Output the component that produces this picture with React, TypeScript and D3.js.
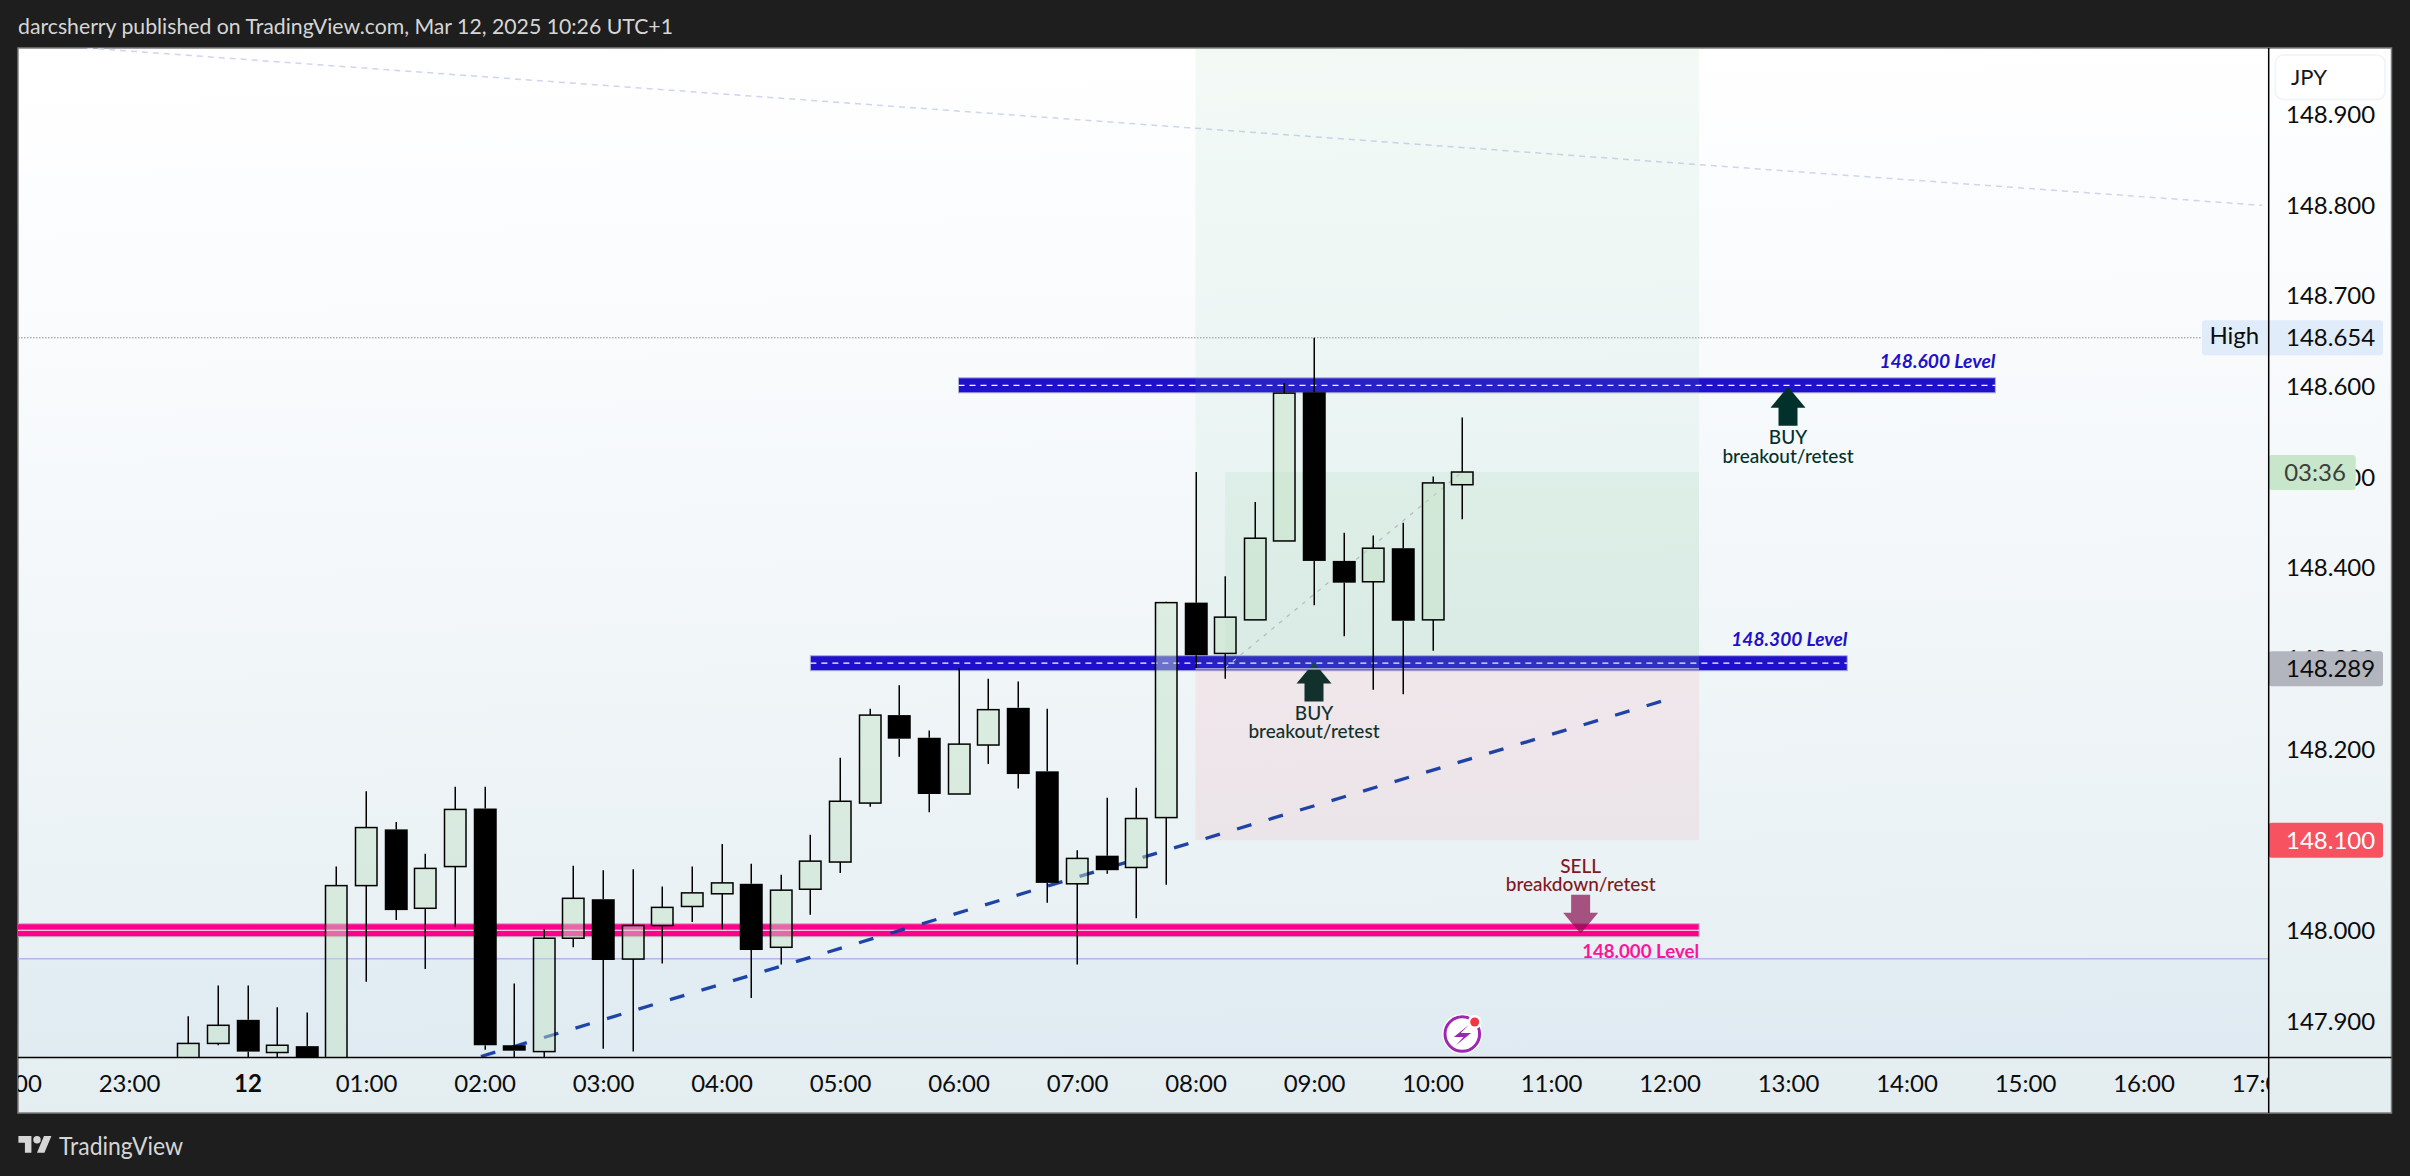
import React, { useEffect, useRef } from 'react';
import * as d3 from 'd3';

const barTimes = ['23:30', '23:45', '00:00', '00:15', '00:30', '00:45', '01:00', '01:15', '01:30', '01:45', '02:00', '02:15', '02:30', '02:45', '03:00', '03:15', '03:30', '03:45', '04:00', '04:15', '04:30', '04:45', '05:00', '05:15', '05:30', '05:45', '06:00', '06:15', '06:30', '06:45', '07:00', '07:15', '07:30', '07:45', '08:00', '08:15', '08:30', '08:45', '09:00', '09:15', '09:30', '09:45', '10:00', '10:15'];
const opens = [147.84, 147.876, 147.902, 147.866, 147.873, 147.85, 148.05, 148.112, 148.025, 148.071, 148.135, 147.874, 147.867, 147.992, 148.035, 147.969, 148.006, 148.027, 148.041, 148.052, 147.982, 148.046, 148.076, 148.141, 148.238, 148.213, 148.151, 148.205, 148.246, 148.176, 148.052, 148.083, 148.07, 148.125, 148.362, 148.306, 148.343, 148.43, 148.594, 148.408, 148.385, 148.422, 148.343, 148.492];
const highs = [147.906, 147.94, 147.94, 147.916, 147.91, 148.071, 148.154, 148.12, 148.085, 148.159, 148.159, 147.942, 148.002, 148.072, 148.067, 148.068, 148.049, 148.071, 148.096, 148.074, 148.062, 148.106, 148.191, 148.245, 148.271, 148.221, 148.29, 148.278, 148.275, 148.245, 148.089, 148.147, 148.158, 148.363, 148.506, 148.391, 148.473, 148.604, 148.654, 148.439, 148.436, 148.45, 148.501, 148.566];
const lows = [147.83, 147.874, 147.85, 147.85, 147.84, 147.84, 147.944, 148.012, 147.958, 148.004, 147.869, 147.85, 147.85, 147.982, 147.87, 147.867, 147.964, 148.01, 148.002, 147.926, 147.963, 148.018, 148.064, 148.137, 148.192, 148.131, 148.151, 148.184, 148.157, 148.031, 147.963, 148.063, 148.014, 148.051, 148.29, 148.278, 148.343, 148.43, 148.359, 148.325, 148.266, 148.261, 148.309, 148.454];
const closes = [147.876, 147.896, 147.867, 147.874, 147.85, 148.05, 148.114, 148.023, 148.069, 148.134, 147.874, 147.868, 147.992, 148.036, 147.968, 148.006, 148.026, 148.042, 148.053, 147.979, 148.045, 148.077, 148.143, 148.238, 148.212, 148.151, 148.206, 148.244, 148.173, 148.053, 148.08, 148.067, 148.124, 148.362, 148.304, 148.346, 148.433, 148.593, 148.408, 148.384, 148.422, 148.342, 148.494, 148.506];

const priceTicks = [148.9, 148.8, 148.7, 148.654, 148.6, 148.5, 148.4, 148.3, 148.2, 148.0, 147.9];
const timeTicks = [-2, -1, 0, 1, 2, 3, 4, 5, 6, 7, 8, 9, 10, 11, 12, 13, 14, 15, 16, 17];
const timeLabels = ['22:00', '23:00', '12', '01:00', '02:00', '03:00', '04:00', '05:00', '06:00', '07:00', '08:00', '09:00', '10:00', '11:00', '12:00', '13:00', '14:00', '15:00', '16:00', '17:00'];

// horizontal levels
const levelLabels = ['148.600 Level', '148.300 Level'];
const levelPrices = [148.6016, 148.2952];
const levelStarts = [6, 4.75];
const levelEnds = [14.75, 13.5];
const sellLevelPrice = 148.0008;
const sellLevelEnd = 12.25;
const sellLevelLabel = '148.000 Level';

// long position drawing
const positionStart = 8;
const positionEnd = 12.25;
const entryPrice = 148.289;
const stopPrice = 148.1;
const profitStart = 8.25;
const lastPrice = 148.506;
const lastHour = 10.25;
const highPrice = 148.654;
const rangeLinePrice = 147.9695;

// trend lines
const trendHours = [1.97, 11.97];
const trendPrices = [147.8616, 148.2547];
const fadedHours = [-1.354, 17];
const fadedPrices = [148.9735, 148.8];

// arrows
const buyHours = [13, 9];
const buyPrices = [148.6, 148.296];
const sellHour = 11.25;
const sellPrice = 147.997;

const hourOf = (t: string) => {
    const [h, m] = t.split(':').map(Number);
    return (h >= 20 ? h - 24 : h) + m / 60;
};

const App: React.FC = () => {
    const svgRef = useRef<SVGSVGElement | null>(null);

    useEffect(() => {
        const width = 2410;
        const height = 1176;
        const margin = { top: 48, right: 18.5, bottom: 63, left: 18 };
        const axisX = 2268.7;
        const axisY = 1057.4;
        const font = 'Lato, sans-serif';

        const svg = d3.select(svgRef.current);
        svg.selectAll('*').remove();

        const xScale = d3.scaleLinear().domain([1, 10]).range([366, 1432.5]);
        const yScale = d3.scaleLinear().domain([147.8606, 148.9735]).range([axisY, margin.top]);

        const defs = svg.append('defs');
        const grad = defs.append('linearGradient').attr('id', 'bg').attr('x1', 0).attr('y1', 0).attr('x2', 0.04).attr('y2', 1);
        grad.append('stop').attr('offset', '0%').attr('stop-color', '#ffffff');
        grad.append('stop').attr('offset', '40%').attr('stop-color', '#f6f9fb');
        grad.append('stop').attr('offset', '100%').attr('stop-color', '#e4eef1');
        defs.append('clipPath').attr('id', 'plot').append('rect')
            .attr('x', margin.left).attr('y', margin.top)
            .attr('width', axisX - margin.left).attr('height', axisY - margin.top);
        defs.append('clipPath').attr('id', 'timeAxis').append('rect')
            .attr('x', margin.left).attr('y', axisY)
            .attr('width', axisX - margin.left).attr('height', 60);

        // page and panel
        svg.append('rect').attr('width', width).attr('height', height).attr('fill', '#1e1e1e');
        svg.append('rect')
            .attr('x', margin.left).attr('y', margin.top)
            .attr('width', width - margin.left - margin.right)
            .attr('height', height - margin.top - margin.bottom)
            .attr('fill', 'url(#bg)')
            .attr('stroke', '#7d7d7d')
            .attr('stroke-width', 1.5);

        svg.append('text')
            .attr('x', 18).attr('y', 34)
            .attr('textLength', 655).attr('lengthAdjust', 'spacingAndGlyphs')
            .attr('font-family', font).attr('font-size', 21).attr('fill', '#d6d6d6')
            .text('darcsherry published on TradingView.com, Mar 12, 2025 10:26 UTC+1');

        const plot = svg.append('g').attr('clip-path', 'url(#plot)');

        // lower range shading
        plot.append('rect')
            .attr('x', margin.left).attr('y', yScale(rangeLinePrice))
            .attr('width', axisX - margin.left).attr('height', axisY - yScale(rangeLinePrice))
            .attr('fill', 'rgba(110,170,255,0.05)');
        plot.append('line')
            .attr('x1', margin.left).attr('x2', axisX)
            .attr('y1', yScale(rangeLinePrice)).attr('y2', yScale(rangeLinePrice))
            .attr('stroke', '#b9b4e6').attr('stroke-width', 1.5);

        plot.append('line')
            .attr('x1', xScale(fadedHours[0])).attr('y1', yScale(fadedPrices[0]))
            .attr('x2', xScale(fadedHours[1])).attr('y2', yScale(fadedPrices[1]))
            .attr('stroke', '#d0d4ee').attr('stroke-width', 1.5).attr('stroke-dasharray', '6,5');

        // high line
        plot.append('line')
            .attr('x1', margin.left).attr('x2', 2202)
            .attr('y1', yScale(highPrice)).attr('y2', yScale(highPrice))
            .attr('stroke', '#8a8f94').attr('stroke-width', 1).attr('stroke-dasharray', '1.5,1.5');

        // blue levels
        levelPrices.forEach((price, i) => {
            const x1 = xScale(levelStarts[i]);
            const x2 = xScale(levelEnds[i]);
            plot.append('rect')
                .attr('x', x1).attr('y', yScale(price) - 7.5)
                .attr('width', x2 - x1).attr('height', 15)
                .attr('fill', '#1f10cc').attr('stroke', '#aeb0d8').attr('stroke-width', 1);
            plot.append('line')
                .attr('x1', x1).attr('x2', x2)
                .attr('y1', yScale(price)).attr('y2', yScale(price))
                .attr('stroke', '#ffffff').attr('stroke-width', 1.2).attr('stroke-dasharray', '6,5');
            plot.append('text')
                .attr('x', x2).attr('y', yScale(price) - 17)
                .attr('text-anchor', 'end')
                .attr('textLength', 116).attr('lengthAdjust', 'spacingAndGlyphs')
                .attr('font-family', font).attr('font-size', 19).attr('font-style', 'italic').attr('font-weight', 700)
                .attr('fill', '#1f10cc')
                .text(levelLabels[i]);
        });

        // pink level
        const sellY = yScale(sellLevelPrice);
        plot.append('rect')
            .attr('x', margin.left - 2).attr('y', sellY - 6.5)
            .attr('width', xScale(sellLevelEnd) - margin.left + 2).attr('height', 13)
            .attr('fill', '#ff008c').attr('stroke', '#b9bcc4').attr('stroke-width', 1);
        plot.append('line')
            .attr('x1', margin.left).attr('x2', xScale(sellLevelEnd))
            .attr('y1', sellY).attr('y2', sellY)
            .attr('stroke', '#ffffff').attr('stroke-width', 1.2);
        plot.append('text')
            .attr('x', xScale(sellLevelEnd)).attr('y', sellY + 27.5)
            .attr('text-anchor', 'end')
            .attr('textLength', 117).attr('lengthAdjust', 'spacingAndGlyphs')
            .attr('font-family', font).attr('font-size', 19).attr('font-weight', 700)
            .attr('fill', '#ff1499')
            .text(sellLevelLabel);

        // buy arrows + captions
        const arrowShape = (x: number, tip: number, dir: number) => {
            const p = d3.path();
            p.moveTo(x, tip);
            p.lineTo(x + 17.5, tip + dir * 21);
            p.lineTo(x + 9.5, tip + dir * 21);
            p.lineTo(x + 9.5, tip + dir * 39);
            p.lineTo(x - 9.5, tip + dir * 39);
            p.lineTo(x - 9.5, tip + dir * 21);
            p.lineTo(x - 17.5, tip + dir * 21);
            p.closePath();
            return p.toString();
        };
        buyHours.forEach((hour, i) => {
            const x = xScale(hour);
            const tip = yScale(buyPrices[i]);
            plot.append('path').attr('d', arrowShape(x, tip, 1)).attr('fill', '#02312c');
            ['BUY', 'breakout/retest'].forEach((line, j) => {
                plot.append('text')
                    .attr('x', x).attr('y', tip + 51 + j * 18.3)
                    .attr('dy', '0.35em').attr('text-anchor', 'middle')
                    .attr('font-family', font).attr('font-size', 19).attr('font-weight', 500)
                    .attr('fill', '#02312c')
                    .text(line);
            });
        });

        // long position boxes
        const boxX = xScale(positionStart);
        const boxW = xScale(positionEnd) - boxX;
        plot.append('rect')
            .attr('x', boxX).attr('y', margin.top)
            .attr('width', boxW).attr('height', yScale(entryPrice) - margin.top)
            .attr('fill', 'rgba(120,200,150,0.09)');
        plot.append('rect')
            .attr('x', xScale(profitStart)).attr('y', yScale(lastPrice))
            .attr('width', xScale(positionEnd) - xScale(profitStart))
            .attr('height', yScale(entryPrice) - yScale(lastPrice))
            .attr('fill', 'rgba(120,200,150,0.1)');
        plot.append('rect')
            .attr('x', boxX).attr('y', yScale(entryPrice))
            .attr('width', boxW).attr('height', yScale(stopPrice) - yScale(entryPrice))
            .attr('fill', 'rgba(242,54,69,0.07)');
        plot.append('line')
            .attr('x1', boxX).attr('x2', boxX + boxW)
            .attr('y1', yScale(entryPrice)).attr('y2', yScale(entryPrice))
            .attr('stroke', '#c9cbe8').attr('stroke-width', 1.2);
        plot.append('line')
            .attr('x1', xScale(profitStart)).attr('y1', yScale(entryPrice) - 1)
            .attr('x2', xScale(lastHour)).attr('y2', yScale(lastPrice))
            .attr('stroke', '#b4babd').attr('stroke-width', 1.2).attr('stroke-dasharray', '4,6');

        // rising trend line
        plot.append('line')
            .attr('x1', xScale(trendHours[0])).attr('y1', yScale(trendPrices[0]))
            .attr('x2', xScale(trendHours[1])).attr('y2', yScale(trendPrices[1]))
            .attr('stroke', '#0e36a0').attr('stroke-width', 3.3).attr('stroke-dasharray', '15,17.9')
            .attr('opacity', 0.92);

        // sell arrow + caption
        const sellX = xScale(sellHour);
        const sellTip = yScale(sellPrice);
        plot.append('path').attr('d', arrowShape(sellX, sellTip, -1)).attr('fill', 'rgba(136,14,79,0.7)');
        ['SELL', 'breakdown/retest'].forEach((line, j) => {
            plot.append('text')
                .attr('x', sellX).attr('y', sellTip - 67.5 + j * 18.3)
                .attr('dy', '0.35em').attr('text-anchor', 'middle')
                .attr('font-family', font).attr('font-size', 19).attr('font-weight', 500)
                .attr('fill', '#801922')
                .text(line);
        });

        // candles
        const candles = plot.append('g');
        barTimes.forEach((t, i) => {
            const x = Math.round(xScale(hourOf(t))) + 0.25;
            const up = closes[i] >= opens[i];
            const top = yScale(Math.max(opens[i], closes[i]));
            const bottom = yScale(Math.min(opens[i], closes[i]));
            // wicks stop at the body, up bodies are translucent
            candles.append('line')
                .attr('x1', x).attr('x2', x)
                .attr('y1', yScale(highs[i])).attr('y2', top)
                .attr('stroke', '#000').attr('stroke-width', 1.5);
            candles.append('line')
                .attr('x1', x).attr('x2', x)
                .attr('y1', bottom).attr('y2', yScale(lows[i]))
                .attr('stroke', '#000').attr('stroke-width', 1.5);
            if (up) {
                candles.append('rect')
                    .attr('x', x - 10.75).attr('y', top)
                    .attr('width', 21.5).attr('height', bottom - top)
                    .attr('fill', 'rgba(195,225,198,0.47)')
                    .attr('stroke', '#000').attr('stroke-width', 1.5);
            } else {
                candles.append('rect')
                    .attr('x', x - 11.5).attr('y', top)
                    .attr('width', 23).attr('height', bottom - top)
                    .attr('fill', '#000');
            }
        });

        // lightning badge
        const badge = plot.append('g').attr('transform', 'translate(1462.3,1034)');
        badge.append('circle').attr('r', 20).attr('fill', '#ffffff');
        badge.append('circle').attr('r', 17.3).attr('fill', 'none').attr('stroke', '#9c27b0').attr('stroke-width', 3);
        badge.append('path').attr('d', 'M7,-9.5L-8.5,3L1.2,3L-6.5,11.5L8.8,-1L-1.5,-1Z').attr('fill', '#9c27b0');
        badge.append('circle').attr('cx', 12.4).attr('cy', -12).attr('r', 7).attr('fill', '#ffffff');
        badge.append('circle').attr('cx', 12.4).attr('cy', -12).attr('r', 4.5).attr('fill', '#f23645');

        // axes
        const yAxis = d3.axisRight(yScale)
            .tickValues(priceTicks)
            .tickSize(0)
            .tickPadding(17.3)
            .tickFormat((d) => d3.format('.3f')(d as number));
        const yAxisG = svg.append('g').attr('transform', `translate(${axisX},0)`).call(yAxis);
        yAxisG.select('.domain').remove();
        yAxisG.selectAll('text').attr('font-family', font).attr('font-size', 24).attr('fill', '#0c0c0c');

        const xAxis = d3.axisBottom(xScale)
            .tickValues(timeTicks)
            .tickSize(0)
            .tickPadding(18)
            .tickFormat((_, i) => timeLabels[i]);
        const xAxisG = svg.append('g')
            .attr('clip-path', 'url(#timeAxis)')
            .append('g')
            .attr('transform', `translate(0,${axisY})`)
            .call(xAxis);
        xAxisG.select('.domain').remove();
        xAxisG.selectAll('text')
            .attr('font-family', font).attr('font-size', 24).attr('fill', '#0c0c0c')
            .attr('font-weight', (_, i) => (timeLabels[i] === '12' ? 700 : 400));

        // price labels
        const priceTag = (price: number, text: string, fill: string, color: string, x1: number, x2: number) => {
            const y = yScale(price);
            const tag = svg.append('g');
            tag.append('rect')
                .attr('x', x1).attr('y', y - 17.5)
                .attr('width', x2 - x1).attr('height', 35)
                .attr('rx', 3)
                .attr('fill', fill);
            tag.append('text')
                .attr('x', axisX + 17.3).attr('y', y)
                .attr('dy', '0.35em')
                .attr('font-family', font).attr('font-size', 24).attr('fill', color)
                .text(text);
            return tag;
        };
        const highTag = priceTag(highPrice, '148.654', '#e1ecfb', '#0c0c0c', 2202, 2383);
        highTag.append('text')
            .attr('x', 2234.3).attr('y', yScale(highPrice) - 2)
            .attr('dy', '0.35em').attr('text-anchor', 'middle')
            .attr('font-family', font).attr('font-size', 24).attr('fill', '#0c0c0c')
            .text('High');
        priceTag(148.289, '148.289', '#b2b5be', '#0c0c0c', axisX, 2383);
        priceTag(148.1, '148.100', '#f7525f', '#ffffff', axisX, 2383);

        // countdown
        svg.append('rect').attr('x', axisX).attr('y', 455).attr('width', 87).attr('height', 35).attr('rx', 3).attr('fill', '#c8e6c9');
        svg.append('text')
            .attr('x', 2315).attr('y', 472.6).attr('dy', '0.35em').attr('text-anchor', 'middle')
            .attr('font-family', font).attr('font-size', 24).attr('fill', '#3c3f3c')
            .text('03:36');

        // currency button
        svg.append('rect')
            .attr('x', 2275.5).attr('y', 55).attr('width', 109.5).attr('height', 44.5).attr('rx', 8)
            .attr('fill', '#ffffff').attr('stroke', '#f0f3f7').attr('stroke-width', 1.5);
        svg.append('text')
            .attr('x', 2291).attr('y', 77.7).attr('dy', '0.35em')
            .attr('font-family', font).attr('font-size', 22).attr('fill', '#131722')
            .text('JPY');

        // axis lines
        svg.append('line').attr('x1', axisX).attr('x2', axisX).attr('y1', margin.top).attr('y2', height - margin.bottom).attr('stroke', '#000').attr('stroke-width', 1.5);
        svg.append('line').attr('x1', margin.left).attr('x2', width - margin.right).attr('y1', axisY).attr('y2', axisY).attr('stroke', '#000').attr('stroke-width', 1.5);

        // footer logo
        svg.append('path')
            .attr('transform', 'translate(18.4,1132.4) scale(0.93)')
            .attr('d', 'M14 22H7V11H0V4h14v18zM28 22h-8l7.5-18h8L28 22zM24 8a4 4 0 1 1-8 0 4 4 0 0 1 8 0z')
            .attr('fill', '#d6d6d6');
        svg.append('text')
            .attr('x', 59).attr('y', 1155)
            .attr('textLength', 124).attr('lengthAdjust', 'spacingAndGlyphs')
            .attr('font-family', font).attr('font-size', 25).attr('fill', '#d6d6d6')
            .text('TradingView');
    }, []);

    return <svg ref={svgRef} width={2410} height={1176} style={{ position: 'fixed', left: 0, top: 0, display: 'block' }} />;
};

export default App;
